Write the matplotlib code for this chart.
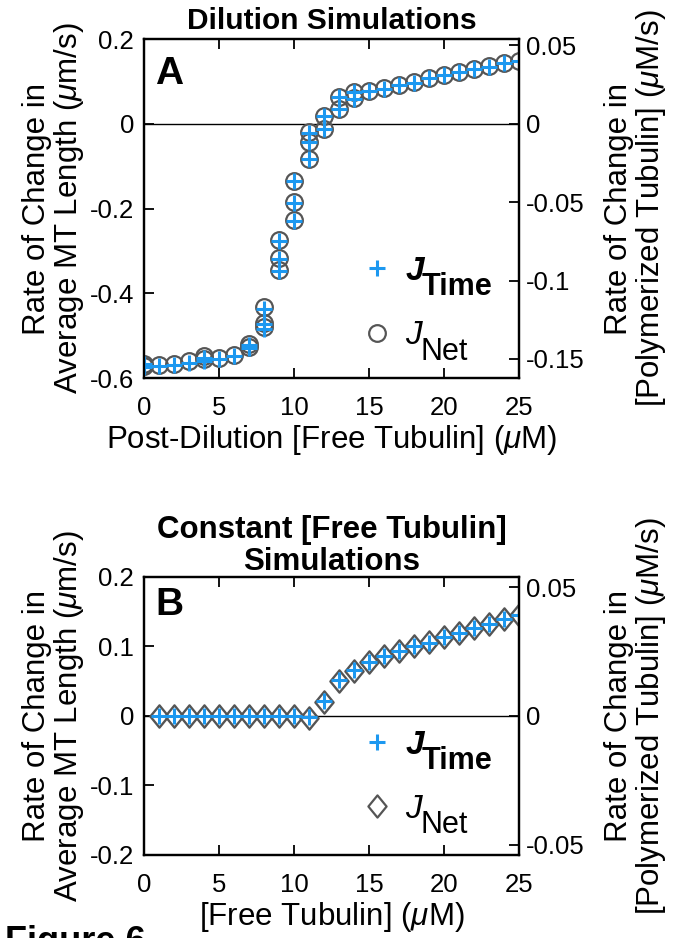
import matplotlib
matplotlib.use('Agg')
import matplotlib.pyplot as plt
from matplotlib.ticker import FuncFormatter
from matplotlib.lines import Line2D
from matplotlib.path import Path

plt.rcParams['font.family'] = ['Liberation Sans', 'DejaVu Sans']
plt.rcParams['mathtext.fontset'] = 'custom'
plt.rcParams['mathtext.rm'] = 'Liberation Sans'
plt.rcParams['mathtext.it'] = 'Liberation Sans:italic'
plt.rcParams['mathtext.bf'] = 'Liberation Sans:bold'
plt.rcParams['axes.unicode_minus'] = False

# --- panel A: dilution simulations ---
dil_conc = [0, 0, 1, 2, 3, 4, 4, 5, 6, 7, 7, 8, 8, 8, 9, 9, 9, 10, 10, 10,
            11, 11, 11, 12, 12, 13, 13, 14, 14, 15, 16, 17, 18, 19, 20, 21,
            22, 23, 24, 25]
dil_time = [-0.575, -0.568, -0.571, -0.570, -0.564, -0.560, -0.552, -0.555,
            -0.547, -0.530, -0.522, -0.485, -0.473, -0.436, -0.347, -0.319,
            -0.276, -0.229, -0.186, -0.135, -0.084, -0.044, -0.021, -0.013,
            0.018, 0.034, 0.062, 0.058, 0.074, 0.077, 0.083, 0.091, 0.097,
            0.107, 0.114, 0.121, 0.129, 0.135, 0.144, 0.148]
dil_net = [-0.572, -0.566, -0.569, -0.568, -0.561, -0.556, -0.549, -0.553,
           -0.545, -0.526, -0.519, -0.480, -0.470, -0.433, -0.345, -0.317,
           -0.275, -0.228, -0.185, -0.134, -0.083, -0.043, -0.020, -0.012,
           0.019, 0.036, 0.063, 0.060, 0.075, 0.078, 0.084, 0.092, 0.098,
           0.107, 0.115, 0.121, 0.129, 0.136, 0.144, 0.148]

# --- panel B: constant free tubulin simulations ---
const_conc = list(range(1, 26))
const_time = [0, 0, 0, 0, 0, 0, 0, 0, 0, 0, -0.002, 0.021, 0.052, 0.066,
              0.078, 0.086, 0.093, 0.100, 0.105, 0.113, 0.119, 0.127, 0.133,
              0.139, 0.145]
const_net = [0, 0, 0, 0, 0, 0, 0, 0, 0, 0, -0.003, 0.020, 0.051, 0.065,
             0.077, 0.086, 0.093, 0.100, 0.106, 0.113, 0.119, 0.127, 0.133,
             0.139, 0.145]

conv = 3.7  # um/s -> uM/s
blue = '#1c98f0'
gray = '#555555'
# matlab-like diamond, a bit taller than wide
diamond = Path([(0, -1), (0.82, 0), (0, 1), (-0.82, 0), (0, -1)],
               [Path.MOVETO, Path.LINETO, Path.LINETO, Path.LINETO,
                Path.CLOSEPOLY])
fmt = FuncFormatter(lambda v, p: '%g' % round(v, 3))
left_lab = 'Rate of Change in\nAverage MT Length ($\\mu$m/s)'
right_lab = 'Rate of Change in\n[Polymerized Tubulin] ($\\mu$M/s)'
TICK = 18.5
LAB = 22.5

fig = plt.figure(figsize=(6.74, 9.38), dpi=100)


def style(ax, ylim, yticks, ax2ticks, xlab):
    ax.set_xlim(0, 25)
    ax.set_ylim(*ylim)
    ax.set_xticks([0, 5, 10, 15, 20, 25])
    ax.set_yticks(yticks)
    ax.yaxis.set_major_formatter(fmt)
    ax.axhline(0, color='black', lw=1, zorder=1)
    ax.tick_params(direction='in', length=7, width=1.3, labelsize=TICK,
                   top=True, right=False)
    ax.tick_params(axis='y', pad=7)
    ax.tick_params(axis='x', pad=13)
    for s in ax.spines.values():
        s.set_linewidth(1.6)
    ax.set_xlabel(xlab, fontsize=LAB, labelpad=2)
    ax.set_ylabel(left_lab, fontsize=LAB, labelpad=3, linespacing=1.0)
    ax2 = ax.twinx()
    ax2.set_ylim(ylim[0] / conv, ylim[1] / conv)
    ax2.set_yticks(ax2ticks)
    ax2.yaxis.set_major_formatter(fmt)
    ax2.tick_params(direction='in', length=7, width=1.3, labelsize=TICK,
                    pad=5)
    ax2.set_ylabel(right_lab, fontsize=LAB, rotation=90, labelpad=14,
                   linespacing=1.0)
    for s in ax2.spines.values():
        s.set_linewidth(1.6)
    return ax2


def legend(ax, net_marker, net_ms, anchor):
    h = [Line2D([], [], ls='none', marker='+', ms=12, color=blue, mew=2.2),
         Line2D([], [], ls='none', marker=net_marker, ms=net_ms,
                mfc='none', mec=gray, mew=1.6)]
    leg = ax.legend(h, ['J', 'J'], loc='upper left', bbox_to_anchor=anchor,
                    frameon=False, fontsize=24, labelspacing=1.0,
                    handlelength=1.0, handletextpad=0.35, borderpad=0,
                    borderaxespad=0)
    t1, t2 = leg.get_texts()
    t1.set_fontstyle('italic')
    t1.set_fontweight('bold')
    t2.set_fontstyle('italic')
    ax.annotate('Time', xy=(1, 0), xycoords=t1, xytext=(-2, -6),
                textcoords='offset points', fontsize=22, weight='bold',
                va='baseline', ha='left', zorder=10)
    ax.annotate('Net', xy=(1, 0), xycoords=t2, xytext=(-1, -6),
                textcoords='offset points', fontsize=22,
                va='baseline', ha='left', zorder=10)


# Panel A
axA = fig.add_axes([0.2136, 0.597, 0.5564, 0.3614])
axA.plot(dil_conc, dil_net, 'o', ms=12, mfc='none', mec=gray, mew=1.6,
         zorder=3)
axA.plot(dil_conc, dil_time, '+', ms=12, color=blue, mew=2.2, zorder=4)
style(axA, (-0.6, 0.2), [-0.6, -0.4, -0.2, 0, 0.2],
      [-0.15, -0.1, -0.05, 0, 0.05],
      'Post-Dilution [Free Tubulin] ($\\mu$M)')
axA.set_title('Dilution Simulations', fontsize=21.5, weight='bold', pad=7)
axA.text(0.03, 0.95, 'A', transform=axA.transAxes, fontsize=28,
         weight='bold', va='top', ha='left')
legend(axA, 'o', 12, (0.577, 0.36))

# Panel B
axB = fig.add_axes([0.2136, 0.0885, 0.5564, 0.2964])
axB.plot(const_conc, const_net, ls='none', marker=diamond, ms=16,
         mfc='none', mec=gray, mew=1.7, zorder=3)
axB.plot(const_conc, const_time, '+', ms=12, color=blue, mew=2.2, zorder=4)
style(axB, (-0.2, 0.2), [-0.2, -0.1, 0, 0.1, 0.2], [-0.05, 0, 0.05],
      '[Free Tubulin] ($\\mu$M)')
axB.set_title('Constant [Free Tubulin]\nSimulations', fontsize=LAB,
              weight='bold', pad=5, linespacing=1.1)
axB.text(0.03, 0.965, 'B', transform=axB.transAxes, fontsize=28,
         weight='bold', va='top', ha='left')
legend(axB, diamond, 16, (0.577, 0.451))

fig.text(0.008, 1 - 925 / 938, 'Figure 6', fontsize=26, weight='bold',
         va='top', ha='left')

fig.canvas.draw()
fig.savefig('out.png', dpi=100)
